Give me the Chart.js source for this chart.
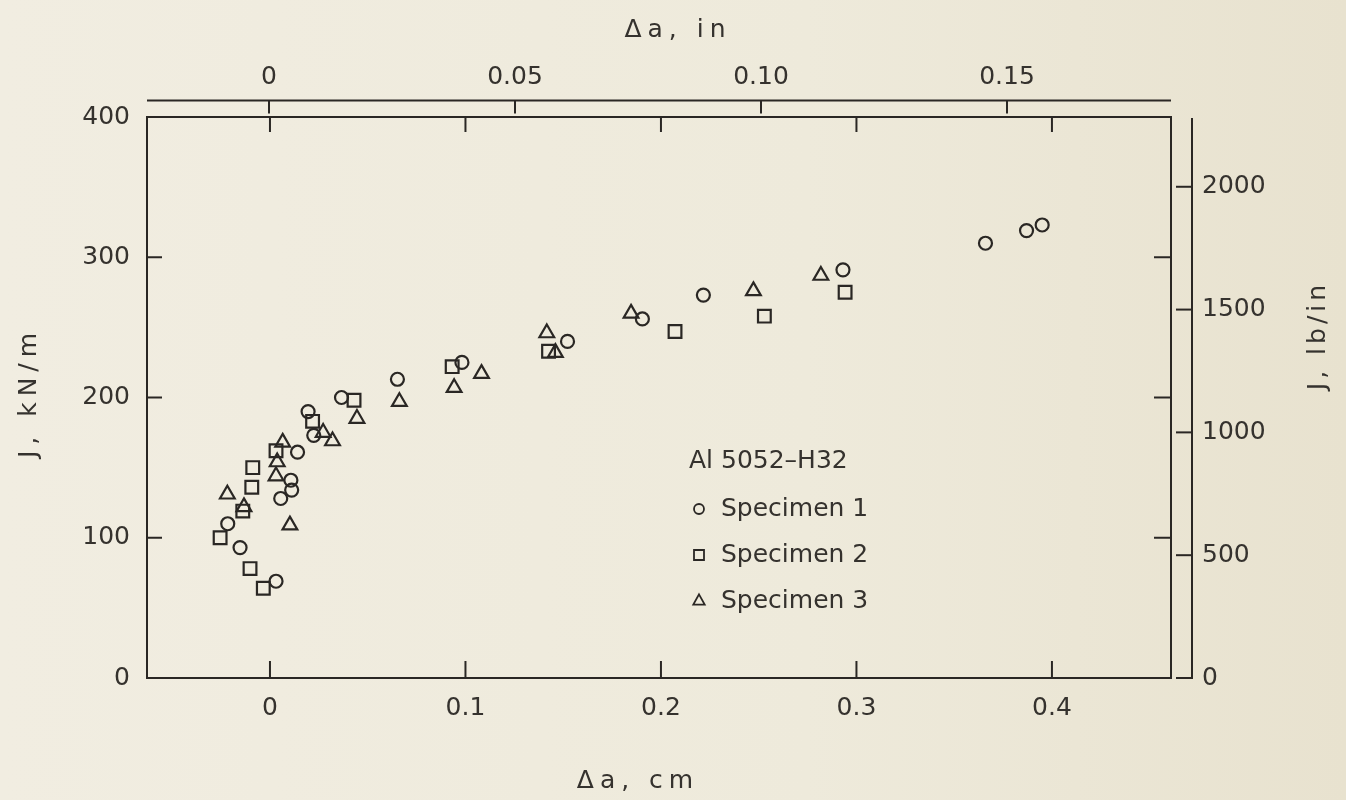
<!DOCTYPE html>
<html>
<head>
<meta charset="utf-8">
<script src="https://cdn.jsdelivr.net/npm/chart.js@4/dist/chart.umd.min.js"></script>
<style>
  html, body { margin: 0; padding: 0; }
  body { width: 1346px; height: 800px; background: linear-gradient(90deg, #f1ede1 0%, #eeeadb 60%, #e8e2cf 100%); }
  #wrap { width: 1346px; height: 800px; }
</style>
</head>
<body>
<div id="wrap"><canvas id="jrChart" width="1346" height="800"></canvas></div>
<script>
// Δa (cm) and J (kN/m)
const spec1X = [-0.0216, -0.0153, 0.0031, 0.0055, 0.0107, 0.0111, 0.0141, 0.0195, 0.0224, 0.0366, 0.0652, 0.0982, 0.1522, 0.1905, 0.2217, 0.2931, 0.366, 0.387, 0.395];
const spec1J = [110, 93, 69, 128, 141, 134, 161, 190, 173, 200, 213, 225, 240, 256, 273, 291, 310, 319, 323];

const spec2X = [-0.0255, -0.0139, -0.0102, -0.0093, -0.0088, -0.0034, 0.0031, 0.0218, 0.043, 0.0932, 0.1425, 0.2072, 0.2529, 0.2942];
const spec2J = [100, 119, 78, 136, 150, 64, 162, 183, 198, 222, 233, 247, 258, 275];

const spec3X = [-0.0218, -0.0133, 0.0031, 0.0037, 0.0065, 0.0102, 0.0272, 0.032, 0.0445, 0.0662, 0.0942, 0.1082, 0.1416, 0.146, 0.1847, 0.2473, 0.2818];
const spec3J = [131, 122, 144, 154, 168, 109, 175, 169, 185, 197, 207, 217, 246, 232, 260, 276, 287];

// axes
const cmTicks = [0, 0.1, 0.2, 0.3, 0.4];
const cmLabels = ['0', '0.1', '0.2', '0.3', '0.4'];
const inTicks = [0, 0.05, 0.10, 0.15];
const inLabels = ['0', '0.05', '0.10', '0.15'];
const kNTicks = [0, 100, 200, 300, 400];
const kNLabels = ['0', '100', '200', '300', '400'];
const lbTicks = [0, 500, 1000, 1500, 2000];
const lbLabels = ['0', '500', '1000', '1500', '2000'];

const seriesNames = ['Specimen 1', 'Specimen 2', 'Specimen 3'];
const legendTitle = 'Al 5052\u2013H32';
const titleCm = '\u0394a, cm';
const titleIn = '\u0394a, in';
const titleKN = 'J, kN/m';
const titleLb = 'J, lb/in';

const KN_PER_LB = 0.175127;
const ink = '#2a2724';
const textInk = '#35322e';
const fontFamily = '"DejaVu Sans", "Liberation Sans", Arial, sans-serif';

document.addEventListener('DOMContentLoaded', function() {
    initChart();
});

function toPoints(xs, ys) {
    return xs.map((x, i) => ({ x: x, y: ys[i] }));
}

function line(ctx, x1, y1, x2, y2) {
    ctx.beginPath();
    ctx.moveTo(x1, y1);
    ctx.lineTo(x2, y2);
    ctx.stroke();
}

function drawMarker(ctx, style, x, y, r) {
    ctx.beginPath();
    if (style === 'circle') {
        ctx.arc(x, y, r, 0, Math.PI * 2);
    } else if (style === 'rect') {
        ctx.rect(x - r, y - r, 2 * r, 2 * r);
    } else {
        ctx.moveTo(x, y - r * 1.1);
        ctx.lineTo(x + r * 0.95, y + r * 0.6);
        ctx.lineTo(x - r * 0.95, y + r * 0.6);
        ctx.closePath();
    }
    ctx.stroke();
}

function drawSpacedText(ctx, text, x, y, rotation, spacing) {
    ctx.save();
    ctx.translate(x, y);
    ctx.rotate(rotation);
    ctx.letterSpacing = spacing + 'px';
    ctx.textAlign = 'center';
    ctx.textBaseline = 'middle';
    ctx.fillText(text, spacing / 2, 0);
    ctx.restore();
}

// box, inward ticks, the extra in / lb/in axes, titles and the legend
const framePlugin = {
    id: 'frame',
    afterDraw(chart) {
        const ctx = chart.ctx;
        const a = chart.chartArea;
        const s = chart.scales;
        ctx.save();
        ctx.strokeStyle = ink;
        ctx.lineWidth = 2;
        ctx.lineCap = 'butt';
        ctx.strokeRect(a.left, a.top, a.right - a.left, a.bottom - a.top);

        cmTicks.forEach(v => {
            const x = s.x.getPixelForValue(v);
            line(ctx, x, a.bottom, x, a.bottom - 17);
            line(ctx, x, a.top, x, a.top + 15);
        });
        kNTicks.slice(1, -1).forEach(v => {
            const y = s.y.getPixelForValue(v);
            line(ctx, a.left, y, a.left + 15, y);
            line(ctx, a.right, y, a.right - 17, y);
        });

        // inch axis above the box
        const yIn = a.top - 16.5;
        line(ctx, a.left, yIn, a.right, yIn);
        inTicks.forEach(v => {
            const x = s.x2.getPixelForValue(v);
            line(ctx, x, yIn, x, yIn + 13);
        });

        // lb/in axis right of the box
        const xLb = a.right + 21;
        line(ctx, xLb, a.top + 1, xLb, a.bottom + 1);
        lbTicks.forEach(v => {
            const y = s.y2.getPixelForValue(v);
            line(ctx, xLb - 16, y, xLb + 1, y);
        });

        // axis titles
        ctx.fillStyle = textInk;
        ctx.font = '25px ' + fontFamily;
        drawSpacedText(ctx, titleIn, (a.left + a.right) / 2 + 16, 30, 0, 6);
        drawSpacedText(ctx, titleCm, (a.left + a.right) / 2 - 24, 781, 0, 6);
        drawSpacedText(ctx, titleKN, 29, (a.top + a.bottom) / 2 - 2, -Math.PI / 2, 6);
        drawSpacedText(ctx, titleLb, 1318, (a.top + a.bottom) / 2 - 60, -Math.PI / 2, 4);

        // legend
        const lx = a.left + 542;
        ctx.textAlign = 'left';
        ctx.textBaseline = 'middle';
        ctx.fillText(legendTitle, lx, 461);
        const styles = ['circle', 'rect', 'triangle'];
        const sizes = [5, 5, 6];
        ctx.lineWidth = 1.8;
        seriesNames.forEach((name, i) => {
            const y = 509 + i * 46;
            drawMarker(ctx, styles[i], lx + 10, y, sizes[i]);
            ctx.fillText(name, lx + 32, y);
        });
        ctx.restore();
    }
};

function initChart() {
    const font = { family: fontFamily, size: 25 };
    const markerStyle = {
        showLine: false,
        borderColor: ink,
        backgroundColor: 'rgba(0,0,0,0)',
        borderWidth: 2.2
    };

    new Chart(document.getElementById('jrChart'), {
        type: 'scatter',
        data: {
            datasets: [
                Object.assign({ label: seriesNames[0], data: toPoints(spec1X, spec1J), pointStyle: 'circle', pointRadius: 6.5 }, markerStyle),
                Object.assign({ label: seriesNames[1], data: toPoints(spec2X, spec2J), pointStyle: 'rect', pointRadius: 9 }, markerStyle),
                Object.assign({ label: seriesNames[2], data: toPoints(spec3X, spec3J), pointStyle: 'triangle', pointRadius: 8.5 }, markerStyle)
            ]
        },
        options: {
            responsive: false,
            animation: false,
            devicePixelRatio: 1,
            layout: { padding: 0 },
            plugins: {
                legend: { display: false },
                tooltip: { enabled: false }
            },
            scales: {
                x: {
                    type: 'linear',
                    position: 'bottom',
                    min: -0.0629,
                    max: 0.4609,
                    afterBuildTicks: sc => { sc.ticks = cmTicks.map(v => ({ value: v })); },
                    afterFit: sc => { sc.height = 122; },
                    ticks: { callback: (v, i) => cmLabels[i], padding: 7, font: font, color: textInk, autoSkip: false, maxRotation: 0 },
                    grid: { display: false },
                    border: { display: false }
                },
                x2: {
                    type: 'linear',
                    axis: 'x',
                    position: 'top',
                    min: -0.0248,
                    max: 0.18333,
                    afterBuildTicks: sc => { sc.ticks = inTicks.map(v => ({ value: v })); },
                    afterFit: sc => { sc.height = 117; },
                    ticks: { callback: (v, i) => inLabels[i], padding: 17, font: font, color: textInk, autoSkip: false, maxRotation: 0 },
                    grid: { display: false },
                    border: { display: false }
                },
                y: {
                    type: 'linear',
                    position: 'left',
                    min: 0,
                    max: 400,
                    afterBuildTicks: sc => { sc.ticks = kNTicks.map(v => ({ value: v })); },
                    afterFit: sc => { sc.width = 147; },
                    ticks: { callback: (v, i) => kNLabels[i], padding: 9, font: font, color: textInk },
                    grid: { display: false },
                    border: { display: false }
                },
                y2: {
                    type: 'linear',
                    axis: 'y',
                    position: 'right',
                    min: 0,
                    max: 400 / KN_PER_LB,
                    afterBuildTicks: sc => { sc.ticks = lbTicks.map(v => ({ value: v })); },
                    afterFit: sc => { sc.width = 175; },
                    ticks: { callback: (v, i) => lbLabels[i], padding: 23, font: font, color: textInk },
                    grid: { display: false },
                    border: { display: false }
                }
            }
        },
        plugins: [framePlugin]
    });
}
</script>
</body>
</html>
